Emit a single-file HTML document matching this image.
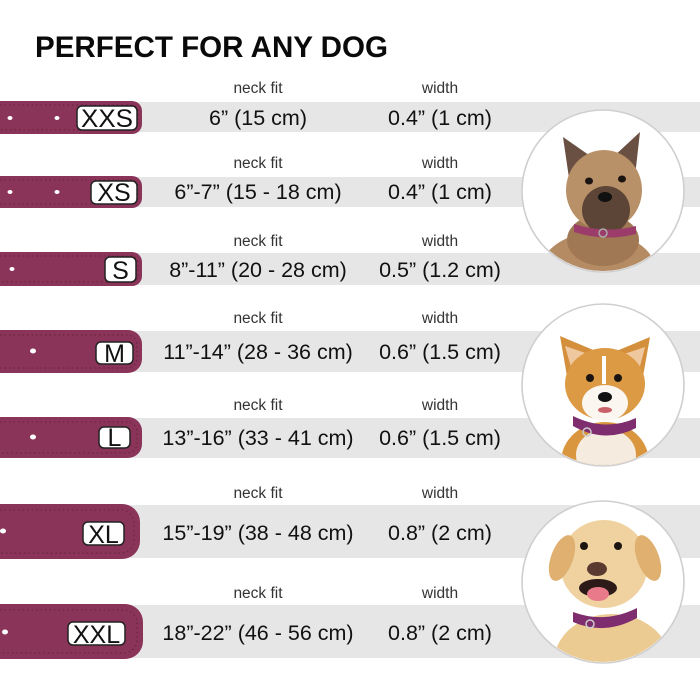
<!DOCTYPE html>
<html><head><meta charset="utf-8"><style>
html,body{margin:0;padding:0;background:#fff;}
svg{display:block;}
</style></head><body>
<svg width="700" height="700" viewBox="0 0 700 700" xmlns="http://www.w3.org/2000/svg">
<rect width="700" height="700" fill="#fff"/>
<defs>
<clipPath id="c1"><circle cx="603" cy="191" r="80"/></clipPath>
<clipPath id="c2"><circle cx="603" cy="385" r="80"/></clipPath>
<clipPath id="c3"><circle cx="603" cy="582" r="80"/></clipPath>
</defs>
<!-- title -->
<text x="35" y="57" font-family="Liberation Sans, sans-serif" font-weight="bold" font-size="29.5" fill="#0a0a0a" textLength="353" lengthAdjust="spacingAndGlyphs">PERFECT FOR ANY DOG</text>

<!-- bands -->
<g fill="#e6e6e6">
<rect x="0" y="102" width="700" height="30"/>
<rect x="0" y="177" width="700" height="30"/>
<rect x="0" y="253" width="700" height="32"/>
<rect x="0" y="331" width="700" height="41"/>
<rect x="0" y="418" width="700" height="40"/>
<rect x="0" y="505" width="700" height="53"/>
<rect x="0" y="605" width="700" height="53"/>
</g>

<!-- collars -->
<g fill="#8a3459">
<path d="M-5 101 H132 A10 10 0 0 1 142 111 V124 A10 10 0 0 1 132 134 H-5 Z"/>
<path d="M-5 176 H132 A10 10 0 0 1 142 186 V198 A10 10 0 0 1 132 208 H-5 Z"/>
<path d="M-5 252 H132 A10 10 0 0 1 142 262 V276 A10 10 0 0 1 132 286 H-5 Z"/>
<path d="M-5 330 H128 A14 14 0 0 1 142 344 V359 A14 14 0 0 1 128 373 H-5 Z"/>
<path d="M-5 417 H128 A14 14 0 0 1 142 431 V444 A14 14 0 0 1 128 458 H-5 Z"/>
<path d="M-5 504 H122 A18 18 0 0 1 140 522 V541 A18 18 0 0 1 122 559 H-5 Z"/>
<path d="M-5 604 H125 A18 18 0 0 1 143 622 V641 A18 18 0 0 1 125 659 H-5 Z"/>
</g>
<!-- stitching -->
<g fill="none" stroke="#5e1d3a" stroke-width="1" stroke-dasharray="1.5 3" opacity="0.8">
<path d="M0 105 H130 A7 7 0 0 1 138 112 V123 A7 7 0 0 1 130 130 H0"/>
<path d="M0 180 H130 A7 7 0 0 1 138 187 V197 A7 7 0 0 1 130 204 H0"/>
<path d="M0 256 H130 A7 7 0 0 1 138 263 V275 A7 7 0 0 1 130 282 H0"/>
<path d="M0 335 H126 A10 10 0 0 1 137 345 V358 A10 10 0 0 1 126 368 H0"/>
<path d="M0 422 H126 A10 10 0 0 1 137 432 V443 A10 10 0 0 1 126 453 H0"/>
<path d="M0 510 H120 A13 13 0 0 1 134 523 V540 A13 13 0 0 1 120 553 H0"/>
<path d="M0 610 H123 A13 13 0 0 1 137 623 V640 A13 13 0 0 1 123 653 H0"/>
</g>
<!-- holes -->
<g fill="#fff">
<ellipse cx="10" cy="118" rx="2.5" ry="2"/><ellipse cx="57" cy="118" rx="2.5" ry="2"/>
<ellipse cx="10" cy="192" rx="2.5" ry="2"/><ellipse cx="57" cy="192" rx="2.5" ry="2"/>
<ellipse cx="12" cy="269" rx="2.5" ry="2"/>
<ellipse cx="33" cy="351" rx="3" ry="2.5"/>
<ellipse cx="33" cy="437" rx="3" ry="2.5"/>
<ellipse cx="3" cy="531" rx="3" ry="2.5"/>
<ellipse cx="5" cy="632" rx="3" ry="2.5"/>
</g>
<!-- label boxes -->
<g fill="#fff" stroke="#222" stroke-width="1.5">
<rect x="77" y="106" width="60" height="24" rx="5"/>
<rect x="91" y="181" width="46" height="23" rx="5"/>
<rect x="105" y="257" width="31" height="25" rx="5"/>
<rect x="96" y="342" width="37" height="22" rx="5"/>
<rect x="99" y="427" width="31" height="21" rx="5"/>
<rect x="83" y="522" width="41" height="23" rx="5"/>
<rect x="68" y="622" width="57" height="23" rx="5"/>
</g>
<g font-family="Liberation Sans, sans-serif" font-size="25" fill="#111" text-anchor="middle">
<text x="107" y="127" textLength="52" lengthAdjust="spacingAndGlyphs">XXS</text>
<text x="114" y="201">XS</text>
<text x="120.5" y="279">S</text>
<text x="114.5" y="362">M</text>
<text x="114.5" y="446">L</text>
<text x="103.5" y="543">XL</text>
<text x="96.5" y="643">XXL</text>
</g>

<!-- neck fit / width labels -->
<g font-family="Liberation Sans, sans-serif" font-size="15.5" fill="#333" text-anchor="middle">
<text x="258" y="93">neck fit</text><text x="440" y="93">width</text>
<text x="258" y="168">neck fit</text><text x="440" y="168">width</text>
<text x="258" y="246">neck fit</text><text x="440" y="246">width</text>
<text x="258" y="323">neck fit</text><text x="440" y="323">width</text>
<text x="258" y="410">neck fit</text><text x="440" y="410">width</text>
<text x="258" y="498">neck fit</text><text x="440" y="498">width</text>
<text x="258" y="598">neck fit</text><text x="440" y="598">width</text>
</g>
<g font-family="Liberation Sans, sans-serif" font-size="21.5" fill="#111" text-anchor="middle">
<text x="258" y="125">6” (15 cm)</text><text x="440" y="125">0.4” (1 cm)</text>
<text x="258" y="199">6”-7” (15 - 18 cm)</text><text x="440" y="199">0.4” (1 cm)</text>
<text x="258" y="277">8”-11” (20 - 28 cm)</text><text x="440" y="277">0.5” (1.2 cm)</text>
<text x="258" y="359">11”-14” (28 - 36 cm)</text><text x="440" y="359">0.6” (1.5 cm)</text>
<text x="258" y="445">13”-16” (33 - 41 cm)</text><text x="440" y="445">0.6” (1.5 cm)</text>
<text x="258" y="540">15”-19” (38 - 48 cm)</text><text x="440" y="540">0.8” (2 cm)</text>
<text x="258" y="640">18”-22” (46 - 56 cm)</text><text x="440" y="640">0.8” (2 cm)</text>
</g>

<!-- circles -->
<g fill="#fff" stroke="#cfcfcf" stroke-width="1.6">
<circle cx="603" cy="191" r="81"/>
<circle cx="603" cy="385" r="81"/>
<circle cx="603" cy="582" r="81"/>
</g>

<!-- terrier -->
<g clip-path="url(#c1)">
<ellipse cx="598" cy="272" rx="58" ry="40" fill="#b48b62"/>
<ellipse cx="603" cy="240" rx="36" ry="26" fill="#a07853"/>
<polygon points="563,137 570,185 596,160" fill="#6a5042"/>
<polygon points="640,132 612,158 634,185" fill="#6a5042"/>
<ellipse cx="604" cy="190" rx="38" ry="40" fill="#b99168"/>
<ellipse cx="606" cy="210" rx="24" ry="24" fill="#5c4536"/>
<ellipse cx="589" cy="181" rx="4" ry="3.5" fill="#1c1410"/>
<ellipse cx="622" cy="179" rx="4" ry="3.5" fill="#1c1410"/>
<ellipse cx="605" cy="197" rx="7" ry="5" fill="#111"/>
<path d="M574 224 Q605 234 636 226 L636 234 Q605 242 574 232 Z" fill="#9c3c6a"/>
<circle cx="603" cy="233" r="4" fill="none" stroke="#aaa" stroke-width="1.5"/>
</g>

<!-- corgi -->
<g clip-path="url(#c2)">
<ellipse cx="605" cy="462" rx="44" ry="40" fill="#d9963f"/>
<ellipse cx="606" cy="455" rx="30" ry="26" fill="#f5ebdf"/>
<polygon points="560,336 568,382 598,352" fill="#d48f3c"/>
<polygon points="565,346 573,374 591,355" fill="#f0c8a0"/>
<polygon points="650,337 614,352 642,382" fill="#d48f3c"/>
<polygon points="645,347 621,355 638,374" fill="#f0c8a0"/>
<ellipse cx="605" cy="384" rx="40" ry="36" fill="#dc9a45"/>
<rect x="602" y="356" width="4" height="28" fill="#fff"/>
<ellipse cx="605" cy="403" rx="23" ry="18" fill="#fbf6f0"/>
<ellipse cx="590" cy="378" rx="4" ry="4" fill="#1c1410"/>
<ellipse cx="618" cy="378" rx="4" ry="4" fill="#1c1410"/>
<ellipse cx="605" cy="397" rx="7" ry="5" fill="#111"/>
<ellipse cx="605" cy="410" rx="7" ry="3" fill="#c9616a"/>
<path d="M573 416 Q605 432 636 418 L636 428 Q605 444 573 426 Z" fill="#7e2e6e"/>
<circle cx="587" cy="432" r="4" fill="none" stroke="#ccc" stroke-width="1.5"/>
</g>

<!-- lab -->
<g clip-path="url(#c3)">
<ellipse cx="612" cy="662" rx="58" ry="48" fill="#eccb93"/>
<ellipse cx="604" cy="564" rx="44" ry="44" fill="#efd29f"/>
<ellipse cx="562" cy="558" rx="11" ry="24" fill="#e0b070" transform="rotate(20 562 558)"/>
<ellipse cx="648" cy="558" rx="11" ry="24" fill="#e0b070" transform="rotate(-20 648 558)"/>
<ellipse cx="584" cy="546" rx="4" ry="4" fill="#1c1410"/>
<ellipse cx="618" cy="546" rx="4" ry="4" fill="#1c1410"/>
<ellipse cx="597" cy="569" rx="10" ry="7" fill="#5a3a30"/>
<ellipse cx="598" cy="588" rx="19" ry="9" fill="#2b1a18"/>
<ellipse cx="598" cy="594" rx="11" ry="7" fill="#e87a8a"/>
<path d="M573 612 Q605 624 637 608 L637 618 Q605 636 573 622 Z" fill="#7e2e6e"/>
<circle cx="590" cy="624" r="4" fill="none" stroke="#ccc" stroke-width="1.5"/>
</g>
</svg>
</body></html>
